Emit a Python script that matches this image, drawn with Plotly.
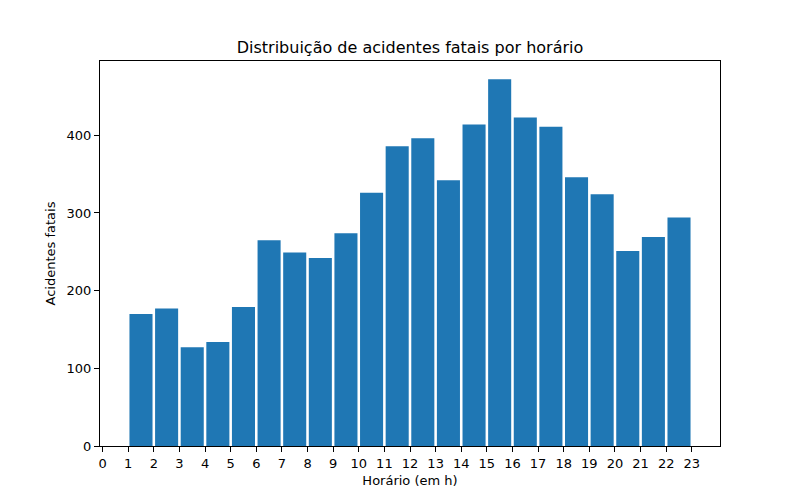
import plotly.graph_objects as go

hours = list(range(1, 23))
fatal_accidents = [170, 177, 127, 134, 179, 265, 249, 242, 274, 326, 386,
                   396, 342, 414, 472, 423, 411, 346, 324, 251, 269, 294]
x_ticks = list(range(0, 24))
y_ticks = [0, 100, 200, 300, 400]

fig = go.Figure()
fig.add_trace(go.Bar(x=hours, y=fatal_accidents, width=0.9, offset=0.05,
                     marker=dict(color="#1f77b4", line=dict(width=0))))

axis_style = dict(showline=True, linecolor="black", linewidth=1, mirror=True,
                  ticks="outside", ticklen=5, tickcolor="black", showgrid=False,
                  zeroline=False, tickfont=dict(size=13, color="black"))

# page body has an 8px margin, so margins are shifted to compensate
fig.update_layout(
    width=800, height=500,
    margin=dict(l=92, r=88, t=53, b=62),
    plot_bgcolor="white", paper_bgcolor="white",
    font=dict(family="DejaVu Sans", color="black"),
    showlegend=False,
    title=dict(text="Distribuição de acidentes fatais por horário", x=0.5, xanchor="center",
               xref="paper", y=0.922, yanchor="middle", font=dict(size=16)),
    xaxis=dict(range=[-0.1, 24.1], tickvals=x_ticks,
               title=dict(text="Horário (em h)", font=dict(size=13), standoff=6), **axis_style),
    yaxis=dict(range=[0, 495.6], tickvals=y_ticks,
               title=dict(text="Acidentes fatais", font=dict(size=13), standoff=8), **axis_style),
)

fig.write_html("out.html")
